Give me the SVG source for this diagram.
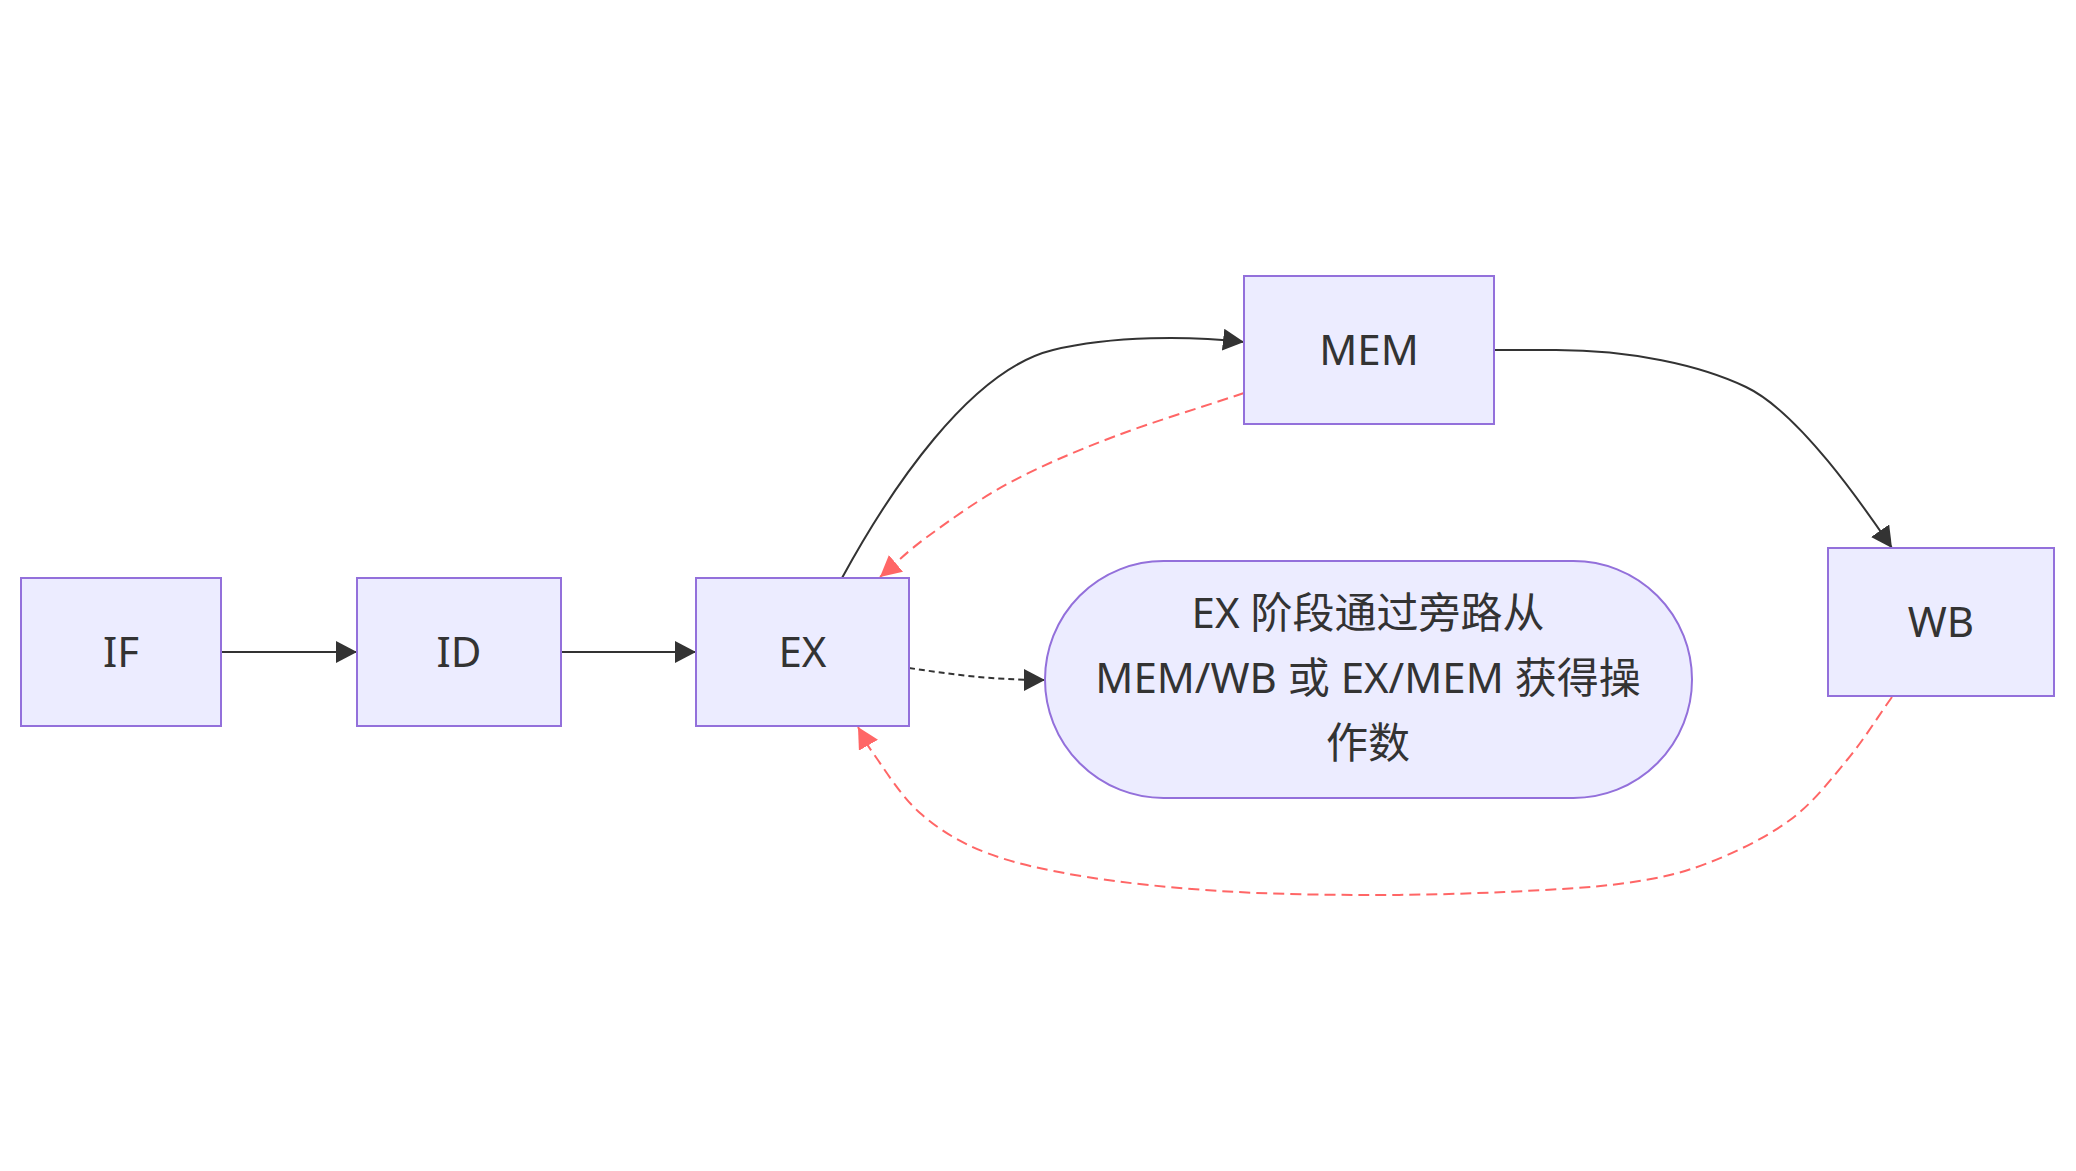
<svg xmlns="http://www.w3.org/2000/svg" width="2076" height="1171" viewBox="0 0 2076 1171">
  <style>
    .node rect { fill: #ECECFF; stroke: #9370DB; stroke-width: 2; }
    .label { font-family: "Noto Sans", "Noto Sans CJK SC", sans-serif; font-size: 42px; fill: #333333; text-anchor: middle; }
    .edge { fill: none; stroke: #333333; stroke-width: 2; }
    .dotted { stroke-dasharray: 6 4; }
    .red { fill: none; stroke: #FF6666; stroke-width: 2; stroke-dasharray: 11 6; }
  </style>
  <defs>
    <marker id="arrow" viewBox="0 0 21 22" refX="21" refY="11" markerWidth="21" markerHeight="22" markerUnits="userSpaceOnUse" orient="auto">
      <path d="M0,0 L21,11 L0,22 z" fill="#333333"/>
    </marker>
    <marker id="arrowRed" viewBox="0 0 21 22" refX="21" refY="11" markerWidth="21" markerHeight="22" markerUnits="userSpaceOnUse" orient="auto">
      <path d="M0,0 L21,11 L0,22 z" fill="#FF6666"/>
    </marker>
  </defs>
  <rect x="0" y="0" width="2076" height="1171" fill="#FFFFFF"/>

  <g id="connectors">
    <path id="e-IF-ID" class="edge" d="M221,652 L357,652" marker-end="url(#arrow)"/>
    <path id="e-ID-EX" class="edge" d="M561,652 L696,652" marker-end="url(#arrow)"/>
    <path id="e-EX-MEM" class="edge" d="M842,578 C890,490 970,370 1053,350 C1113,335.5 1190,336 1244,342" marker-end="url(#arrow)"/>
    <path id="e-MEM-WB" class="edge" d="M1494,350 L1556,350 C1630,350 1700,365 1746,387 C1801,413 1870,516 1892,548" marker-end="url(#arrow)"/>
    <path id="e-EX-note" class="edge dotted" d="M909,668 C950,674 990,680 1045,680" marker-end="url(#arrow)"/>
    <path id="e-MEM-EX" class="red" d="M1244,393 C1200.3,407.7 1152.2,422 1113,437 C1073.8,452 1040,466.3 1009,483 C978,499.7 948.5,521.3 927,537 C905.5,552.7 895.7,563.7 880,577" marker-end="url(#arrowRed)"/>
    <path id="e-WB-EX" class="red" d="M1892,697 C1877,718 1864,739.5 1847,760 C1830,780.5 1813.2,802.8 1790,820 C1766.8,837.2 1735.3,852.5 1708,863 C1680.7,873.5 1660,878.2 1626,883 C1592,887.8 1547.7,890 1504,892 C1460.3,894 1411.3,895.2 1364,895 C1316.7,894.8 1266.2,894 1220,891 C1173.8,888 1125.8,883.3 1087,877 C1048.2,870.7 1014.8,863.7 987,853 C959.2,842.3 939,829.7 920,813 C901,796.3 883.3,767.3 873,753 C862.7,738.7 863,735.7 858,727" marker-end="url(#arrowRed)"/>
  </g>

  <g id="IF" class="node">
    <rect x="21" y="578" width="200" height="148"/>
    <text class="label" x="121" y="667">IF</text>
  </g>
  <g id="ID" class="node">
    <rect x="357" y="578" width="204" height="148"/>
    <text class="label" x="459" y="667">ID</text>
  </g>
  <g id="EX" class="node">
    <rect x="696" y="578" width="213" height="148"/>
    <text class="label" x="802.5" y="667">EX</text>
  </g>
  <g id="MEM" class="node">
    <rect x="1244" y="276" width="250" height="148"/>
    <text class="label" x="1369" y="365">MEM</text>
  </g>
  <g id="WB" class="node">
    <rect x="1828" y="548" width="226" height="148"/>
    <text class="label" x="1941" y="637">WB</text>
  </g>
  <g id="note" class="node">
    <rect x="1045" y="561" width="647" height="237" rx="118.5" ry="118.5"/>
    <text class="label" x="1368" y="628">EX 阶段通过旁路从</text>
    <text class="label" x="1368" y="693">MEM/WB 或 EX/MEM 获得操</text>
    <text class="label" x="1368" y="758">作数</text>
  </g>
</svg>
